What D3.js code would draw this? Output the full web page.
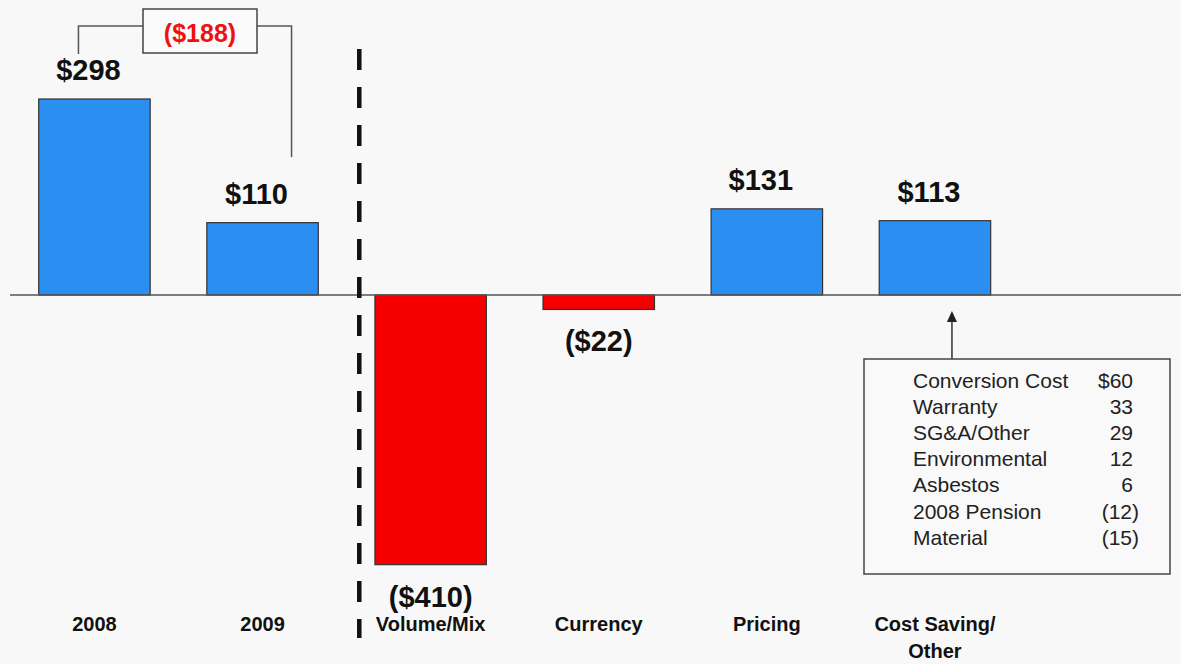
<!DOCTYPE html>
<html><head><meta charset="utf-8">
<script src="https://cdn.jsdelivr.net/npm/d3@7"></script>
<style>
html,body{margin:0;padding:0;background:#f8f8f8;}
svg{display:block;}
text{font-family:"Liberation Sans",Arial,sans-serif;}
</style></head>
<body><svg id="c" width="1181" height="664"></svg>
<script>
const categories = ["2008","2009","Volume/Mix","Currency","Pricing","Cost Saving/\nOther"];
const values = [298,110,-410,-22,131,113];
const valueLabels = ["$298","$110","($410)","($22)","$131","$113"];
const bridgeLabel = "($188)";
const detailItems = ["Conversion Cost","Warranty","SG&A/Other","Environmental","Asbestos","2008 Pension","Material"];
const detailValues = ["$60","33","29","12","6","(12)","(15)"];

const svg = d3.select("#c");
const W = 1181, H = 664;
const zeroY = 295;
const pxPerUnit = 0.6577;

const x = d3.scaleBand().domain(categories).range([10.4, 10.4 + 6*168.1])
  .paddingInner(0.337).paddingOuter(0.337/2);
const y = d3.scaleLinear().domain([0, 1]).range([zeroY, zeroY - pxPerUnit]);

// bars
svg.selectAll("rect.bar").data(categories).join("rect")
  .attr("class","bar")
  .attr("x", d => x(d))
  .attr("width", x.bandwidth())
  .attr("y", (d,i) => Math.min(y(values[i]), y(0)))
  .attr("height", (d,i) => Math.abs(y(values[i]) - y(0)))
  .attr("fill", (d,i) => values[i] >= 0 ? "#2b8ff2" : "#f40000")
  .attr("stroke", "#333")
  .attr("stroke-width", 1.2);

// baseline
svg.append("line").attr("x1", 10).attr("x2", W).attr("y1", y(0)).attr("y2", y(0))
  .attr("stroke", "#555").attr("stroke-width", 1.5);

// dashed divider
const divX = x(categories[1]) + x.bandwidth() + 41;
svg.append("line").attr("x1", divX).attr("x2", divX).attr("y1", 49).attr("y2", 638)
  .attr("stroke", "#111").attr("stroke-width", 4.5).attr("stroke-dasharray", "21,17");

// value labels
svg.selectAll("text.val").data(categories).join("text")
  .attr("class","val")
  .attr("x", (d,i) => x(d) + x.bandwidth()/2 + (values[i] >= 0 ? -6 : 0))
  .attr("y", (d,i) => values[i] >= 0 ? y(values[i]) - 19 : y(values[i]) + 42)
  .attr("text-anchor","middle")
  .attr("font-size", 29).attr("font-weight","bold").attr("fill","#111")
  .text((d,i) => valueLabels[i]);

// category labels
const cat = svg.selectAll("text.cat").data(categories).join("text")
  .attr("class","cat")
  .attr("text-anchor","middle")
  .attr("font-size", 20).attr("font-weight","bold").attr("fill","#111");
cat.each(function(d){
  const lines = d.split("\n");
  const t = d3.select(this);
  lines.forEach((l,j) => t.append("tspan")
    .attr("x", x(d) + x.bandwidth()/2)
    .attr("y", 631 + j*27).text(l));
});

// bracket between 2008 and 2009
const c0 = x(categories[0]) + x.bandwidth()/2 - 16;
const c1 = x(categories[1]) + x.bandwidth()/2 + 29;
const bY = 26;
const bx0 = 143, bx1 = 257;
svg.append("path")
  .attr("d", `M${c0},54 V${bY} H${bx0} M${bx1},${bY} H${c1} V157`)
  .attr("fill","none").attr("stroke","#555").attr("stroke-width",1.5);
svg.append("rect").attr("x",bx0).attr("y",9).attr("width",bx1-bx0).attr("height",44)
  .attr("fill","#fbfbfb").attr("stroke","#444").attr("stroke-width",1.5);
svg.append("text").attr("x",(bx0+bx1)/2).attr("y",42).attr("text-anchor","middle")
  .attr("font-size",25).attr("font-weight","bold").attr("fill","#f01010").text(bridgeLabel);

// detail box with arrow
const arrowX = x(categories[5]) + x.bandwidth()/2 + 17;
svg.append("line").attr("x1",arrowX).attr("x2",arrowX).attr("y1",359).attr("y2",320)
  .attr("stroke","#333").attr("stroke-width",1.5);
svg.append("path").attr("d",`M${arrowX},311 L${arrowX-5},322 L${arrowX+5},322 Z`).attr("fill","#222");
svg.append("rect").attr("x",864).attr("y",359).attr("width",306).attr("height",215)
  .attr("fill","#f9f9f9").attr("stroke","#444").attr("stroke-width",1.5);
svg.selectAll("text.di").data(detailItems).join("text").attr("class","di")
  .attr("x",913).attr("y",(d,i)=>388 + i*26.1)
  .attr("font-size",21).attr("fill","#222").text(d=>d);
svg.selectAll("text.dv").data(detailValues).join("text").attr("class","dv")
  .attr("x",(d)=> d.startsWith("(") ? 1139 : 1133).attr("y",(d,i)=>388 + i*26.1)
  .attr("text-anchor","end")
  .attr("font-size",21).attr("fill","#222").text(d=>d);
</script>
</body></html>
